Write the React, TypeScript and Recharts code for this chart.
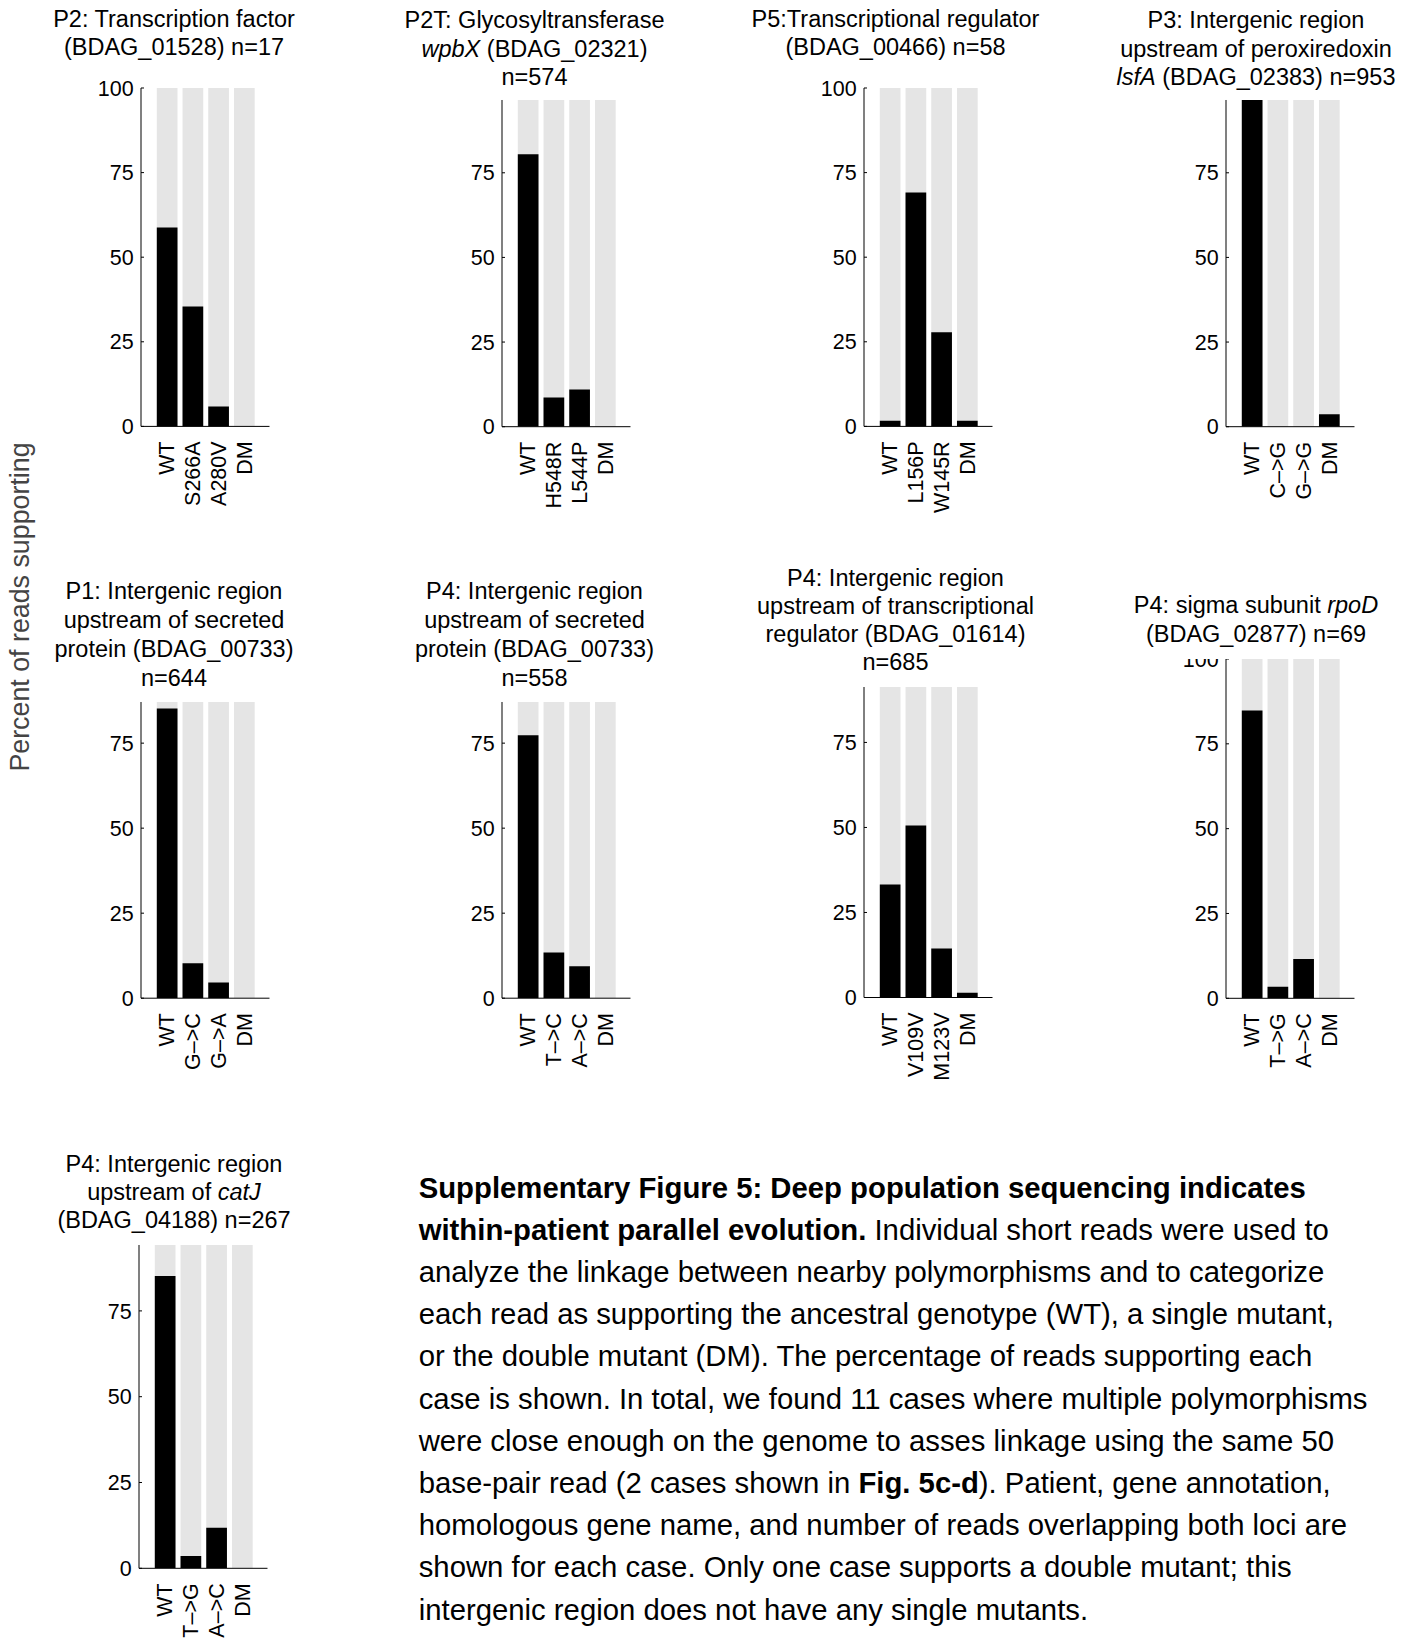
import React from 'react';
import { BarChart, Bar, XAxis, YAxis } from 'recharts';

const FONT = '"Liberation Sans", Arial, Helvetica, sans-serif';

// ---------- data ----------
const p1Labels = ['WT', 'S266A', 'A280V', 'DM'];
const p1Values = [58.8, 35.4, 5.9, 0];

const p2Labels = ['WT', 'H548R', 'L544P', 'DM'];
const p2Values = [80.5, 8.6, 11.0, 0];

const p3Labels = ['WT', 'L156P', 'W145R', 'DM'];
const p3Values = [1.7, 69.1, 27.8, 1.7];

const p4Labels = ['WT', 'C–>G', 'G–>G', 'DM'];
const p4Values = [96.5, 0, 0, 3.7];

const p5Labels = ['WT', 'G–>C', 'G–>A', 'DM'];
const p5Values = [85.2, 10.3, 4.6, 0];

const p6Labels = ['WT', 'T–>C', 'A–>C', 'DM'];
const p6Values = [77.3, 13.4, 9.4, 0];

const p7Labels = ['WT', 'V109V', 'M123V', 'DM'];
const p7Values = [33.2, 50.6, 14.4, 1.4];

const p8Labels = ['WT', 'T–>G', 'A–>C', 'DM'];
const p8Values = [84.8, 3.4, 11.6, 0];

const p9Labels = ['WT', 'T–>G', 'A–>C', 'DM'];
const p9Values = [85.2, 3.6, 11.8, 0];

// every category is drawn against a full 100% background bar
const totalPercent = 100;

const yMaxes = [100, 96.5, 100, 96.5, 87.1, 87.1, 91.3, 100, 94.2];
const ticksFull = [0, 25, 50, 75, 100];
const ticksShort = [0, 25, 50, 75];

const titles: string[][] = [
  ['P2: Transcription factor', '(BDAG_01528) n=17'],
  ['P2T: Glycosyltransferase', '*wpbX* (BDAG_02321)', 'n=574'],
  ['P5:Transcriptional regulator', '(BDAG_00466) n=58'],
  ['P3: Intergenic region', 'upstream of peroxiredoxin', '*lsfA* (BDAG_02383) n=953'],
  ['P1: Intergenic region', 'upstream of secreted', 'protein (BDAG_00733)', 'n=644'],
  ['P4: Intergenic region', 'upstream of secreted', 'protein (BDAG_00733)', 'n=558'],
  ['P4: Intergenic region', 'upstream of transcriptional', 'regulator (BDAG_01614)', 'n=685'],
  ['P4: sigma subunit *rpoD*', '(BDAG_02877) n=69'],
  ['P4: Intergenic region', 'upstream of *catJ*', '(BDAG_04188) n=267'],
];

const yLabel = 'Percent of reads supporting';

const captionLines = [
  '**Supplementary Figure 5: Deep population sequencing indicates**',
  '**within-patient parallel evolution.** Individual short reads were used to',
  'analyze the linkage between nearby polymorphisms and to categorize',
  'each read as supporting the ancestral genotype (WT), a single mutant,',
  'or the double mutant (DM). The percentage of reads supporting each',
  'case is shown. In total, we found 11 cases where multiple polymorphisms',
  'were close enough on the genome to asses linkage using the same 50',
  'base-pair read (2 cases shown in **Fig. 5c-d**). Patient, gene annotation,',
  'homologous gene name, and number of reads overlapping both loci are',
  'shown for each case. Only one case supports a double mutant; this',
  'intergenic region does not have any single mutants.',
];

const panelLabels = [p1Labels, p2Labels, p3Labels, p4Labels, p5Labels, p6Labels, p7Labels, p8Labels, p9Labels];
const panelValues = [p1Values, p2Values, p3Values, p4Values, p5Values, p6Values, p7Values, p8Values, p9Values];

// ---------- layout ----------
const layouts = [
  { axisX: 140.7, top: 88.3, bottom: 426.7, titleX: 174, titleY: 18.7, lh: 28, clipTop: false },
  { axisX: 502.3, top: 100, bottom: 426.7, titleX: 534.5, titleY: 20.3, lh: 28.2, clipTop: false },
  { axisX: 864, top: 88.3, bottom: 426.7, titleX: 895.5, titleY: 20, lh: 27.7, clipTop: false },
  { axisX: 1225.7, top: 100, bottom: 426.7, titleX: 1256, titleY: 20.3, lh: 28.2, clipTop: false },
  { axisX: 140.7, top: 701.9, bottom: 998.1, titleX: 174, titleY: 591.5, lh: 28.7, clipTop: false },
  { axisX: 502.3, top: 701.9, bottom: 998.1, titleX: 534.5, titleY: 591.5, lh: 28.7, clipTop: false },
  { axisX: 864, top: 687.1, bottom: 997.6, titleX: 895.5, titleY: 577.5, lh: 28.2, clipTop: false },
  { axisX: 1225.7, top: 658.8, bottom: 998.1, titleX: 1256, titleY: 605.2, lh: 28.8, clipTop: true },
  { axisX: 139.3, top: 1245, bottom: 1568.3, titleX: 174, titleY: 1165, lh: 27.8, clipTop: false },
];

const TITLE_FS = 23.5;
const TICK_FS = 21.5;
const BAR_W = 20.7;

function renderMarked(s: string, marker: string, kind: 'i' | 'b') {
  const parts = s.split(marker);
  return parts.map((p, i) =>
    i % 2 === 1 ? (kind === 'i' ? <i key={i}>{p}</i> : <b key={i}>{p}</b>) : <span key={i}>{p}</span>
  );
}

const XTick = (props: any) => {
  const { x, y, payload } = props;
  return (
    <text
      x={0}
      y={0}
      transform={`translate(${x},${y + 15}) rotate(-90)`}
      textAnchor="end"
      dy="0.36em"
      fontSize={TICK_FS}
      fill="#000"
    >
      {payload.value}
    </text>
  );
};

function Panel({ idx }: { idx: number }) {
  const layout = layouts[idx];
  const labels = panelLabels[idx];
  const values = panelValues[idx];
  const ymax = yMaxes[idx];
  const YW = 70;
  const XH = 100;
  const PW = 128.5;
  const R = 4;
  const MT = layout.clipTop ? 0 : 16;
  const plotH = layout.bottom - layout.top;
  const data = labels.map((l, i) => ({ label: l, value: values[i], total: totalPercent }));
  const ticks = ymax >= 100 ? ticksFull : ticksShort;
  return (
    <div style={{ position: 'absolute', left: layout.axisX - YW, top: layout.top - MT }}>
      <BarChart
        width={YW + PW + R}
        height={MT + plotH + XH}
        data={data}
        margin={{ top: MT, right: R, bottom: 0, left: 0 }}
        barSize={BAR_W}
        barGap={-BAR_W}
      >
        <XAxis
          dataKey="label"
          type="category"
          interval={0}
          height={XH}
          padding={{ left: 12.8, right: 12.8 }}
          axisLine={{ stroke: '#000', strokeWidth: 1 }}
          tickLine={false}
          tickSize={0}
          tickMargin={0}
          tick={<XTick />}
        />
        <YAxis
          type="number"
          domain={[0, ymax]}
          allowDataOverflow
          ticks={ticks}
          interval={0}
          width={YW}
          axisLine={{ stroke: '#000', strokeWidth: 1 }}
          tickLine={{ stroke: '#000' }}
          tickSize={-3}
          tickMargin={10.4}
          tick={{ fontSize: TICK_FS, fill: '#000' }}
        />
        <Bar dataKey="total" fill="#e5e5e5" isAnimationActive={false} />
        <Bar dataKey="value" fill="#000" isAnimationActive={false} />
      </BarChart>
    </div>
  );
}

function Title({ idx }: { idx: number }) {
  const layout = layouts[idx];
  const lines = titles[idx];
  const top = layout.titleY - layout.lh / 2 + 0.27;
  return (
    <div
      style={{
        position: 'absolute',
        left: layout.titleX - 220,
        width: 440,
        top,
        textAlign: 'center',
        fontSize: TITLE_FS,
        lineHeight: `${layout.lh}px`,
        color: '#000',
        whiteSpace: 'nowrap',
      }}
    >
      {lines.map((ln, i) => (
        <div key={i}>{renderMarked(ln, '*', 'i')}</div>
      ))}
    </div>
  );
}

export default function App() {
  const CAP_FS = 29.3;
  const CAP_LH = 42.2;
  const capTop = 1187.3 - (CAP_LH / 2 - 0.0115 * CAP_FS);
  return (
    <div
      style={{
        position: 'absolute',
        left: 0,
        top: 0,
        width: 1401,
        height: 1640,
        background: '#fff',
        fontFamily: FONT,
        overflow: 'hidden',
      }}
    >
      {layouts.map((_, i) => (
        <Panel key={`p${i}`} idx={i} />
      ))}
      {layouts.map((_, i) => (
        <Title key={`t${i}`} idx={i} />
      ))}
      <div
        style={{
          position: 'absolute',
          left: 20 - 250,
          top: 607 - 15,
          width: 500,
          height: 30,
          lineHeight: '30px',
          textAlign: 'center',
          fontSize: 26.8,
          color: '#444',
          transform: 'rotate(-90deg)',
          transformOrigin: '50% 50%',
          whiteSpace: 'nowrap',
        }}
      >
        {yLabel}
      </div>
      <div
        style={{
          position: 'absolute',
          left: 418.7,
          top: capTop,
          fontSize: CAP_FS,
          lineHeight: `${CAP_LH}px`,
          color: '#000',
          whiteSpace: 'nowrap',
        }}
      >
        {captionLines.map((ln, i) => (
          <div key={i}>{renderMarked(ln, '**', 'b')}</div>
        ))}
      </div>
    </div>
  );
}
